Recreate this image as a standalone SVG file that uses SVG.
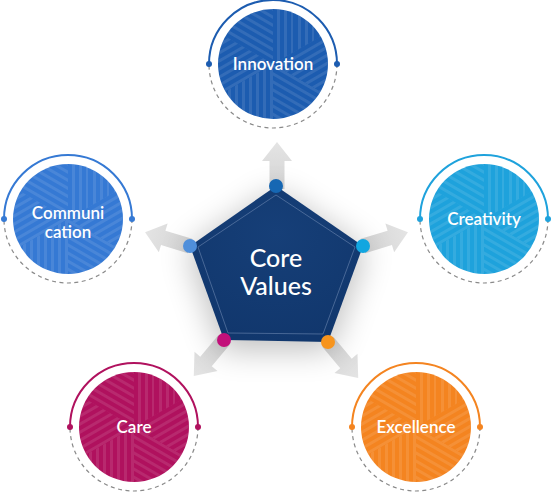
<svg xmlns="http://www.w3.org/2000/svg" xmlns:xlink="http://www.w3.org/1999/xlink" width="551" height="492" viewBox="0 0 551 492">
<style>
.lbl{font-family:Lato,"Liberation Sans",sans-serif;font-size:17px;font-weight:600;fill:#fff;text-anchor:middle}
.core{font-family:Lato,"Liberation Sans",sans-serif;font-size:25px;font-weight:500;fill:#fff;text-anchor:middle}
.arc{fill:none;stroke-width:2}
.dash{fill:none;stroke:#8a8a8a;stroke-width:1.2;stroke-dasharray:4 3.5}
.arrow{fill:url(#ag)}
</style>
<defs>
<linearGradient id="ag" x1="0" y1="0" x2="1" y2="0"><stop offset="0" stop-color="#d4d4d4"/><stop offset="1" stop-color="#e4e4e4"/></linearGradient>
<pattern id="s0" width="7" height="7" patternUnits="userSpaceOnUse" patternTransform="rotate(90)"><rect width="7" height="3" fill="#fff"/></pattern>
<pattern id="s1" width="7" height="7" patternUnits="userSpaceOnUse" patternTransform="rotate(150)"><rect width="7" height="3" fill="#fff"/></pattern>
<pattern id="s2" width="7" height="7" patternUnits="userSpaceOnUse" patternTransform="rotate(30)"><rect width="7" height="3" fill="#fff"/></pattern>
<clipPath id="cc"><circle r="55"/></clipPath>
<g id="tex" clip-path="url(#cc)" opacity="0.1">
<polygon points="0,0 0,-80 69.3,-40" fill="url(#s0)"/>
<polygon points="0,0 69.3,-40 69.3,40" fill="url(#s1)"/>
<polygon points="0,0 69.3,40 0,80" fill="url(#s2)"/>
<polygon points="0,0 0,80 -69.3,40" fill="url(#s0)"/>
<polygon points="0,0 -69.3,40 -69.3,-40" fill="url(#s1)"/>
<polygon points="0,0 -69.3,-40 0,-80" fill="url(#s2)"/>
</g>
<polygon id="arr" points="0,-7.5 28,-7.5 28,-15 47,0 28,15 28,7.5 0,7.5"/>
<filter id="sh" x="-50%" y="-50%" width="200%" height="200%"><feGaussianBlur stdDeviation="16"/></filter>
<radialGradient id="pg" cx="0.5" cy="0.3" r="0.7"><stop offset="0" stop-color="#163f78"/><stop offset="1" stop-color="#11376d"/></radialGradient>
</defs>
<rect width="551" height="492" fill="#fff"/>

<g id="connectors">
<use xlink:href="#arr" class="arrow" transform="translate(277,189) rotate(-90)"/>
<use xlink:href="#arr" class="arrow" transform="translate(190,246) rotate(197)"/>
<use xlink:href="#arr" class="arrow" transform="translate(363,246) rotate(-17)"/>
<use xlink:href="#arr" class="arrow" transform="translate(224,340) rotate(130)"/>
<use xlink:href="#arr" class="arrow" transform="translate(328,342) rotate(50)"/>
</g>

<g id="core">
<polygon points="276,192 188,250 222,350 330,350 365,250" fill="#000" opacity="0.25" filter="url(#sh)"/>
<polygon points="276,186 190,246 224,340 328,342 363,246" fill="url(#pg)"/>
<polygon points="276,195 198,247 228,333 323,334 355,247" fill="none" stroke="#6d87b0" stroke-opacity="0.6" stroke-width="1"/>
<text class="core" x="276" y="267">Core</text>
<text class="core" x="276" y="295">Values</text>
<circle cx="276" cy="186" r="7" fill="#1667b3"/>
<circle cx="190" cy="246" r="7" fill="#4f8fdb"/>
<circle cx="363" cy="246" r="7" fill="#12a6e0"/>
<circle cx="224" cy="340" r="7" fill="#c2107a"/>
<circle cx="328" cy="342" r="7" fill="#f7941d"/>
</g>

<g id="innovation" transform="translate(273,64)">
<circle r="55" fill="#1c5cb0"/>
<use xlink:href="#tex"/>
<path class="arc" d="M-64 0A64 64 0 0 1 64 0" stroke="#1c5cb0"/>
<path class="dash" d="M64 0A64 64 0 0 1 -64 0"/>
<circle cx="-64" r="3" fill="#1c5cb0"/><circle cx="64" r="3" fill="#1c5cb0"/>
<text class="lbl" y="6">Innovation</text>
</g>

<g id="communication" transform="translate(68,219)">
<circle r="55" fill="#3579d4"/>
<use xlink:href="#tex"/>
<path class="arc" d="M-64 0A64 64 0 0 1 64 0" stroke="#3579d4"/>
<path class="dash" d="M64 0A64 64 0 0 1 -64 0"/>
<circle cx="-64" r="3" fill="#3579d4"/><circle cx="64" r="3" fill="#3579d4"/>
<text class="lbl" y="0">Communi</text>
<text class="lbl" y="19">cation</text>
</g>

<g id="creativity" transform="translate(484,219)">
<circle r="55" fill="#1ea2dc"/>
<use xlink:href="#tex"/>
<path class="arc" d="M-64 0A64 64 0 0 1 64 0" stroke="#1ea2dc"/>
<path class="dash" d="M64 0A64 64 0 0 1 -64 0"/>
<circle cx="-64" r="3" fill="#1ea2dc"/><circle cx="64" r="3" fill="#1ea2dc"/>
<text class="lbl" y="6">Creativity</text>
</g>

<g id="care" transform="translate(134,427)">
<circle r="55" fill="#b0115e"/>
<use xlink:href="#tex"/>
<path class="arc" d="M-64 0A64 64 0 0 1 64 0" stroke="#b0115e"/>
<path class="dash" d="M64 0A64 64 0 0 1 -64 0"/>
<circle cx="-64" r="3" fill="#b0115e"/><circle cx="64" r="3" fill="#b0115e"/>
<text class="lbl" y="6">Care</text>
</g>

<g id="excellence" transform="translate(416,427)">
<circle r="55" fill="#f48420"/>
<use xlink:href="#tex"/>
<path class="arc" d="M-64 0A64 64 0 0 1 64 0" stroke="#f48420"/>
<path class="dash" d="M64 0A64 64 0 0 1 -64 0"/>
<circle cx="-64" r="3" fill="#f48420"/><circle cx="64" r="3" fill="#f48420"/>
<text class="lbl" y="6">Excellence</text>
</g>
</svg>
